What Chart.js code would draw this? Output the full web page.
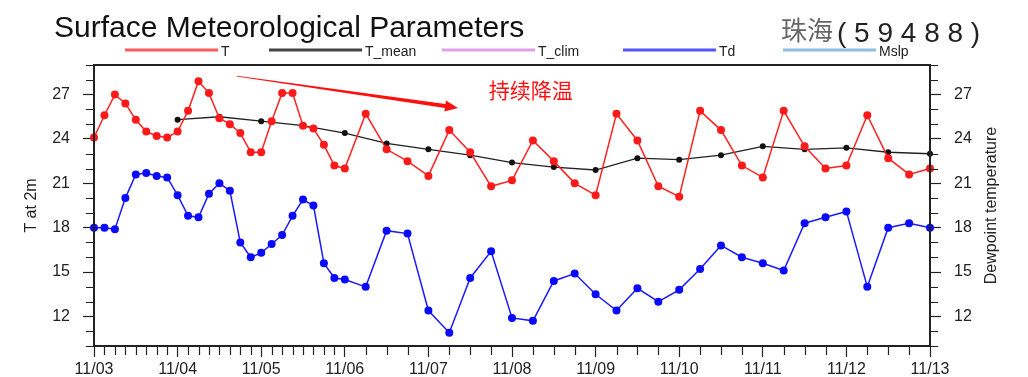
<!DOCTYPE html>
<html>
<head>
<meta charset="utf-8">
<script src="https://cdn.jsdelivr.net/npm/chart.js@4/dist/chart.umd.min.js"></script>
<style>
  body { margin: 0; background: #fff; }
  #wrap { width: 1028px; height: 377px; }
</style>
</head>
<body>
<div id="wrap"><canvas id="c" width="1028" height="377"></canvas></div>
<script>
// tick labels
const dayLabels = ["11/03", "11/04", "11/05", "11/06", "11/07", "11/08", "11/09", "11/10", "11/11", "11/12", "11/13"]
const dayHours = [0, 24, 48, 72, 96, 120, 144, 168, 192, 216, 240]
const yTicks = [12, 15, 18, 21, 24, 27]

// hours since 11/03 00:00 (3-hourly, then 6-hourly)
const obsHours = [0, 3, 6, 9, 12, 15, 18, 21, 24, 27, 30, 33, 36, 39, 42, 45, 48, 51, 54, 57, 60, 63, 66, 69, 72,
  78, 84, 90, 96, 102, 108, 114, 120, 126, 132, 138, 144, 150, 156, 162, 168,
  174, 180, 186, 192, 198, 204, 210, 216, 222, 228, 234, 240]

const tValues = [24.1, 25.6, 27.0, 26.4, 25.3, 24.5, 24.2, 24.1, 24.5, 25.9, 27.9, 27.1, 25.4, 25.0, 24.4, 23.1, 23.1, 25.2, 27.1, 27.1, 24.9, 24.7, 23.6, 22.2, 22.0,
  25.7, 23.3, 22.5, 21.5, 24.6, 23.1, 20.8, 21.2, 23.9, 22.5, 21.0, 20.2, 25.7, 23.9, 20.8, 20.1,
  25.9, 24.6, 22.2, 21.4, 25.9, 23.5, 22.0, 22.2, 25.6, 22.7, 21.6, 22.0]

const tdValues = [18.0, 18.0, 17.9, 20.0, 21.6, 21.7, 21.5, 21.4, 20.2, 18.8, 18.7, 20.3, 21.0, 20.5, 17.0, 16.0, 16.3, 16.9, 17.5, 18.8, 19.9, 19.5, 15.6, 14.6, 14.5,
  14.0, 17.8, 17.6, 12.4, 10.9, 14.6, 16.4, 11.9, 11.7, 14.4, 14.9, 13.5, 12.4, 13.9, 13.0, 13.8,
  15.2, 16.8, 16.0, 15.6, 15.1, 18.3, 18.7, 19.1, 14.0, 18.0, 18.3, 18.0]

const meanHours = [24, 36, 48, 60, 72, 84, 96, 108, 120, 132, 144, 156, 168, 180, 192, 204, 216, 228, 240]
const tMeanValues = [25.3, 25.5, 25.2, 24.9, 24.4, 23.7, 23.3, 22.9, 22.4, 22.1, 21.9, 22.7, 22.6, 22.9, 23.5, 23.3, 23.4, 23.1, 23.0]

// not present in this window
const tClimValues = []
const mslpValues = []

// annotation (hour, value)
const arrowFrom = [41, 28.25]
const arrowTo = [104.5, 26.1]
const noteAt = [113.3, 27.3]
const noteText = "持续降温"

const FONT = "'Liberation Sans', Arial, Helvetica, sans-serif"
const CJK = "'Noto Sans CJK SC', sans-serif"

function pairs(hs, vs) {
  return vs.map((v, i) => ({ x: hs[i], y: v }))
}

const decor = {
  id: "decor",
  afterDraw(chart) {
    const { ctx, chartArea: a, scales: { x, y } } = chart
    ctx.save()

    // minor ticks
    ctx.strokeStyle = "#222"
    ctx.lineWidth = 1.2
    ctx.beginPath()
    obsHours.forEach(h => {
      if (dayHours.includes(h)) return
      const px = Math.round(x.getPixelForValue(h)) + 0.5
      ctx.moveTo(px, a.bottom)
      ctx.lineTo(px, a.bottom + 9)
    })
    for (let v = Math.ceil(y.min); v <= y.max; v++) {
      if (yTicks.includes(v)) continue
      const py = Math.round(y.getPixelForValue(v)) + 0.5
      ctx.moveTo(a.left - 8, py); ctx.lineTo(a.left, py)
      ctx.moveTo(a.right, py); ctx.lineTo(a.right + 8, py)
    }
    ctx.stroke()

    // frame
    ctx.lineWidth = 2
    ctx.strokeRect(a.left, a.top, a.right - a.left, a.bottom - a.top)

    // axis titles
    const midY = (a.top + a.bottom) / 2
    ctx.fillStyle = "#222"
    ctx.font = "16px " + FONT
    ctx.textAlign = "center"
    ctx.textBaseline = "middle"
    ctx.save(); ctx.translate(32, midY); ctx.rotate(-Math.PI / 2); ctx.fillText("T at 2m", 0, 0); ctx.restore()
    ctx.save(); ctx.translate(992, midY); ctx.rotate(-Math.PI / 2); ctx.fillText("Dewpoint temperature", 0, 0); ctx.restore()

    // main title
    ctx.textAlign = "left"
    ctx.textBaseline = "alphabetic"
    ctx.fillStyle = "#111"
    ctx.font = "30px " + FONT
    ctx.fillText("Surface Meteorological Parameters", 54, 37)

    // station
    ctx.fillStyle = "#666"
    ctx.font = "26px " + CJK
    ctx.fillText("珠海", 781, 40)
    ctx.fillStyle = "#222"
    ctx.font = "28px " + FONT
    ctx.fillText("( 5 9 4 8 8 )", 837, 42)

    // legend
    const legendX = [125, 269, 442, 623, 783]
    ctx.font = "14px " + FONT
    chart.data.datasets.forEach((ds, i) => {
      const lx = legendX[i]
      ctx.strokeStyle = ds.legendColor || ds.borderColor
      ctx.lineWidth = 3
      ctx.beginPath(); ctx.moveTo(lx, 50); ctx.lineTo(lx + 93, 50); ctx.stroke()
      ctx.fillStyle = "#222"
      ctx.fillText(ds.label, lx + 96, 56)
    })

    // arrow
    const x0 = x.getPixelForValue(arrowFrom[0]), y0 = y.getPixelForValue(arrowFrom[1])
    const x1 = x.getPixelForValue(arrowTo[0]), y1 = y.getPixelForValue(arrowTo[1])
    const len = Math.hypot(x1 - x0, y1 - y0)
    const ux = (x1 - x0) / len, uy = (y1 - y0) / len
    const nx = -uy, ny = ux
    const bx = x1 - ux * 13, by = y1 - uy * 13
    ctx.fillStyle = "#ff1010"
    ctx.beginPath()
    ctx.moveTo(x0 + nx * 0.3, y0 + ny * 0.3)
    ctx.lineTo(bx + nx * 2, by + ny * 2)
    ctx.lineTo(bx + nx * 5.5, by + ny * 5.5)
    ctx.lineTo(x1, y1)
    ctx.lineTo(bx - nx * 5.5, by - ny * 5.5)
    ctx.lineTo(bx - nx * 2, by - ny * 2)
    ctx.lineTo(x0 - nx * 0.3, y0 - ny * 0.3)
    ctx.closePath()
    ctx.fill()

    // note
    ctx.font = "21px " + CJK
    ctx.textBaseline = "middle"
    ctx.fillText(noteText, x.getPixelForValue(noteAt[0]), y.getPixelForValue(noteAt[1]))

    ctx.restore()
  }
}

const tickFont = { family: FONT, size: 16 }
const yAxis = (position, width) => ({
  position,
  min: 10,
  max: 29,
  afterBuildTicks: s => { s.ticks = yTicks.map(v => ({ value: v })) },
  ticks: { font: tickFont, color: "#222", padding: 13 },
  grid: { drawOnChartArea: false, drawTicks: true, tickLength: 11, tickColor: "#222", tickWidth: 1.2 },
  border: { display: false },
  afterFit: s => { s.width = width }
})

new Chart(document.getElementById("c"), {
  type: "line",
  data: {
    datasets: [
      {
        label: "T", data: pairs(obsHours, tValues), yAxisID: "y", clip: false,
        borderColor: "#ff2020", legendColor: "#ff5a5a", borderWidth: 1.5,
        pointRadius: 4, pointBackgroundColor: "#ff1a1a", pointBorderWidth: 0
      },
      {
        label: "T_mean", data: pairs(meanHours, tMeanValues), yAxisID: "y", clip: false,
        borderColor: "#222", legendColor: "#444", borderWidth: 1.3,
        pointRadius: 3, pointBackgroundColor: "#111", pointBorderWidth: 0
      },
      {
        label: "T_clim", data: pairs(meanHours, tClimValues), yAxisID: "y",
        borderColor: "#e0a0e8", borderWidth: 1.5, pointRadius: 0
      },
      {
        label: "Td", data: pairs(obsHours, tdValues), yAxisID: "y2", clip: false,
        borderColor: "#1a1aff", legendColor: "#5555ff", borderWidth: 1.5,
        pointRadius: 4, pointBackgroundColor: "#0a0aff", pointBorderWidth: 0
      },
      {
        label: "Mslp", data: pairs(obsHours, mslpValues), yAxisID: "y",
        borderColor: "#8fbfe0", borderWidth: 1.5, pointRadius: 0
      }
    ]
  },
  options: {
    responsive: false,
    animation: false,
    layout: { padding: { top: 65, left: 0, right: 0, bottom: 0 } },
    elements: { line: { tension: 0 } },
    plugins: { legend: { display: false }, tooltip: { enabled: false } },
    scales: {
      x: {
        type: "linear",
        min: 0,
        max: 240,
        afterBuildTicks: s => { s.ticks = dayHours.map(v => ({ value: v })) },
        ticks: {
          font: tickFont, color: "#222", padding: 3, maxRotation: 0, autoSkip: false,
          callback: (v, i) => dayLabels[i]
        },
        grid: { drawOnChartArea: false, drawTicks: true, tickLength: 11, tickColor: "#222", tickWidth: 1.2 },
        border: { display: false },
        afterFit: s => { s.height = 31 }
      },
      y: yAxis("left", 94),
      y2: yAxis("right", 98)
    }
  },
  plugins: [decor]
})
</script>
</body>
</html>
